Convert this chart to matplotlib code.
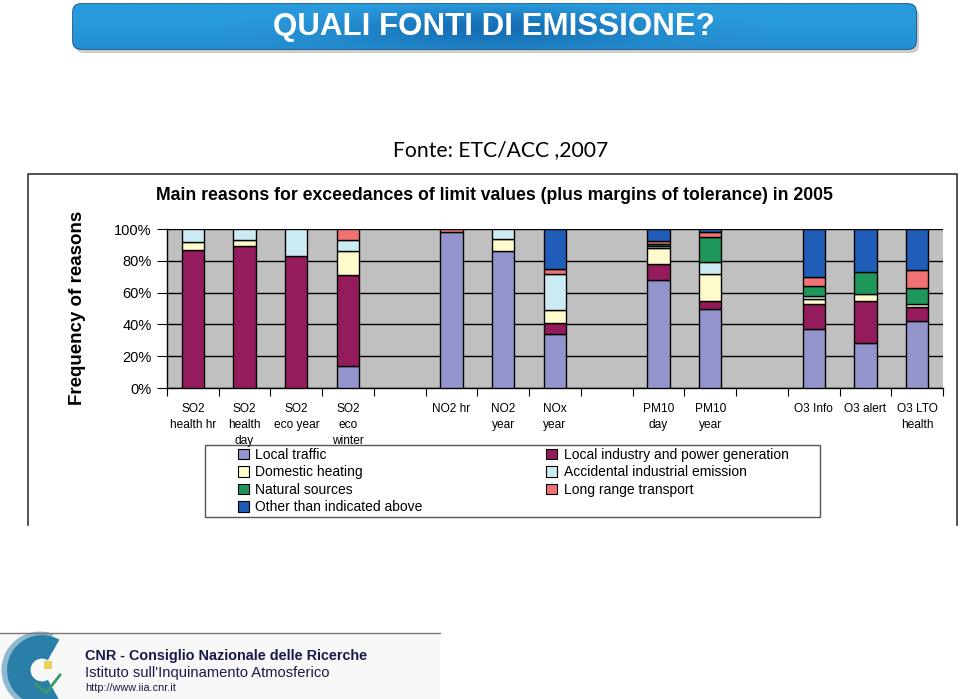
import numpy as np
import matplotlib.pyplot as plt
from matplotlib.patches import FancyBboxPatch, Rectangle, Arc
from matplotlib.ticker import PercentFormatter

# categories (empty strings are the gaps between pollutant groups)
cats = ['SO2\nhealth hr', 'SO2\nhealth\nday', 'SO2\neco year', 'SO2\neco\nwinter', '',
        'NO2 hr', 'NO2\nyear', 'NOx\nyear', '',
        'PM10\nday', 'PM10\nyear', '',
        'O3 Info', 'O3 alert', 'O3 LTO\nhealth']

# percentages per reason, bottom to top of the stack
traffic    = [0, 0, 0, 14, 0, 98, 86, 34, 0, 68, 50, 0, 37, 28, 42]
industry   = [87, 89, 83, 57, 0, 0, 0, 7, 0, 10, 5, 0, 16, 27, 9]
heating    = [5, 4, 0, 15, 0, 0, 8, 8, 0, 10, 17, 0, 3, 4, 2]
accidental = [8, 7, 17, 7, 0, 0, 6, 23, 0, 1, 7, 0, 2, 0, 0]
natural    = [0, 0, 0, 0, 0, 0, 0, 0, 0, 1.5, 16, 0, 6, 14, 10]
longrange  = [0, 0, 0, 7, 0, 2, 0, 3, 0, 2, 3, 0, 6, 0, 11]
other      = [0, 0, 0, 0, 0, 0, 0, 25, 0, 7.5, 2, 0, 30, 27, 26]

series = [
    ('Local traffic', traffic, '#9494CC'),
    ('Local industry and power generation', industry, '#951C5C'),
    ('Domestic heating', heating, '#FFFBCC'),
    ('Accidental industrial emission', accidental, '#CDEBF2'),
    ('Natural sources', natural, '#1F975A'),
    ('Long range transport', longrange, '#F07272'),
    ('Other than indicated above', other, '#1F5DB8'),
]

arial = ['Liberation Sans', 'DejaVu Sans']

W, H = 960, 699
fig = plt.figure(figsize=(W / 100, H / 100), dpi=100)

# slide background in pixel coordinates
bg = fig.add_axes([0, 0, 1, 1])
bg.set_xlim(0, W)
bg.set_ylim(H, 0)
bg.axis('off')

# title banner with gradient
shadow = FancyBboxPatch((76, 8), 843, 45, boxstyle='round,pad=0,rounding_size=8',
                        fc='#9a9a9a', ec='none', alpha=0.5)
bg.add_patch(shadow)
banner = FancyBboxPatch((73, 4), 843, 45, boxstyle='round,pad=0,rounding_size=8',
                        fc='none', ec='#0a4f85', lw=1.2)
bg.add_patch(banner)
gx = np.linspace(-1, 1, 300)
gy = np.linspace(-1, 1, 40)
GX, GY = np.meshgrid(gx, gy)
shade = np.clip(1 - 0.55 * np.exp(-(GX / 0.35) ** 2) * np.exp(-(GY / 0.9) ** 2) - 0.15 * GY, 0, 1)
c_dark = np.array([0.03, 0.30, 0.58])
c_light = np.array([0.16, 0.60, 0.86])
img = c_dark + (c_light - c_dark) * shade[..., None]
im = bg.imshow(img, extent=(73, 916, 49, 4), aspect='auto', zorder=1)
im.set_clip_path(banner)
bg.text(494, 27, 'QUALI FONTI DI EMISSIONE?', ha='center', va='center', color='white',
        fontsize=22.5, fontweight='bold', family=arial, zorder=3)

bg.text(501, 150, 'Fonte: ETC/ACC ,2007', ha='center', va='center', fontsize=15.2,
        family=['Lato', 'DejaVu Sans'])

# frame of the pasted chart
bg.plot([28, 28, 957, 957], [525, 174, 174, 525], color='#333333', lw=1.2)
bg.text(494, 195, 'Main reasons for exceedances of limit values (plus margins of tolerance) in 2005',
        ha='center', va='center', fontsize=12.7, fontweight='bold', family=arial)
bg.text(78, 308, 'Frequency of reasons', ha='center', va='center', rotation=90,
        fontsize=13.5, fontweight='bold', family=arial)

# legend box of the chart
bg.add_patch(Rectangle((205, 445), 615, 72, fc='white', ec='#555555', lw=1))

# logo area
bg.plot([0, 440], [633, 633], color='#777777', lw=1)
bg.add_patch(Rectangle((0, 634), 440, 65, fc='#f8f8f8', ec='none'))
bg.add_patch(Arc((40, 670), 70, 70, theta1=80, theta2=290, color='#8fb8cf', lw=5))
for r, lw in [(28, 10), (17, 8)]:
    bg.add_patch(Arc((42, 670), 2 * r, 2 * r, theta1=60, theta2=300, color='#2a7fa8', lw=lw))
bg.plot([36, 46, 60], [684, 693, 675], color='#3a9a6a', lw=2)
bg.add_patch(Rectangle((44, 661), 8, 8, fc='#e7d45a', ec='none'))
bg.text(85, 656, 'CNR - Consiglio Nazionale delle Ricerche', ha='left', va='center',
        fontsize=10.4, fontweight='bold', color='#1a1a4a', family=arial)
bg.text(85, 673, "Istituto sull'Inquinamento Atmosferico", ha='left', va='center',
        fontsize=10.6, color='#1a1a4a', family=arial)
bg.text(85, 688, 'http://www.iia.cnr.it', ha='left', va='center',
        fontsize=7.8, color='#1a1a4a', family=arial)

# chart
ax = fig.add_axes([167 / W, 1 - 388 / H, 776 / W, 159 / H])
ax.set_facecolor('#C0C0C0')
x = np.arange(len(cats))
bottom = np.zeros(len(cats))
handles = {}
for name, vals, col in series:
    v = np.array(vals, dtype=float) / 100
    keep = v > 0
    b = ax.bar(x[keep], v[keep], width=0.43, bottom=bottom[keep], color=col,
               edgecolor='black', linewidth=1, zorder=3)
    handles[name] = b
    bottom += v

ax.set_xlim(-0.5, len(cats) - 0.5)
ax.set_ylim(0, 1)
ax.set_yticks(np.arange(0, 1.01, 0.2))
ax.yaxis.set_major_formatter(PercentFormatter(1.0, decimals=0))
ax.grid(axis='y', color='black', lw=1, zorder=1)
ax.set_axisbelow(True)
ax.set_xticks(np.arange(-0.5, len(cats), 1))
ax.set_xticklabels([])
ax.set_xticks(x, minor=True)
ax.set_xticklabels(cats, minor=True, family=arial, fontsize=8.6, linespacing=1.45, va='top')
ax.tick_params(axis='x', which='minor', length=0, pad=11)
ax.tick_params(axis='x', which='major', length=6, direction='out')
ax.tick_params(axis='y', length=7, direction='out', labelsize=10.5, pad=4)
for lab in ax.get_yticklabels():
    lab.set_family(arial)
for s in ['top', 'right']:
    ax.spines[s].set_visible(False)
ax.spines['left'].set_linewidth(1)
ax.spines['bottom'].set_linewidth(1)

order = ['Local traffic', 'Domestic heating', 'Natural sources', 'Other than indicated above',
         'Local industry and power generation', 'Accidental industrial emission',
         'Long range transport']
leg = fig.legend([handles[n] for n in order], order, ncol=2, loc='upper left',
                 bbox_to_anchor=(238 / W, 1 - 448 / H), borderaxespad=0, borderpad=0,
                 frameon=False, prop={'family': arial, 'size': 10}, handlelength=0.8,
                 handleheight=0.8, handletextpad=0.45, labelspacing=0.25,
                 columnspacing=8.9)
for h in leg.legend_handles:
    h.set_linewidth(0.8)

fig.savefig('out.png', dpi=100)
